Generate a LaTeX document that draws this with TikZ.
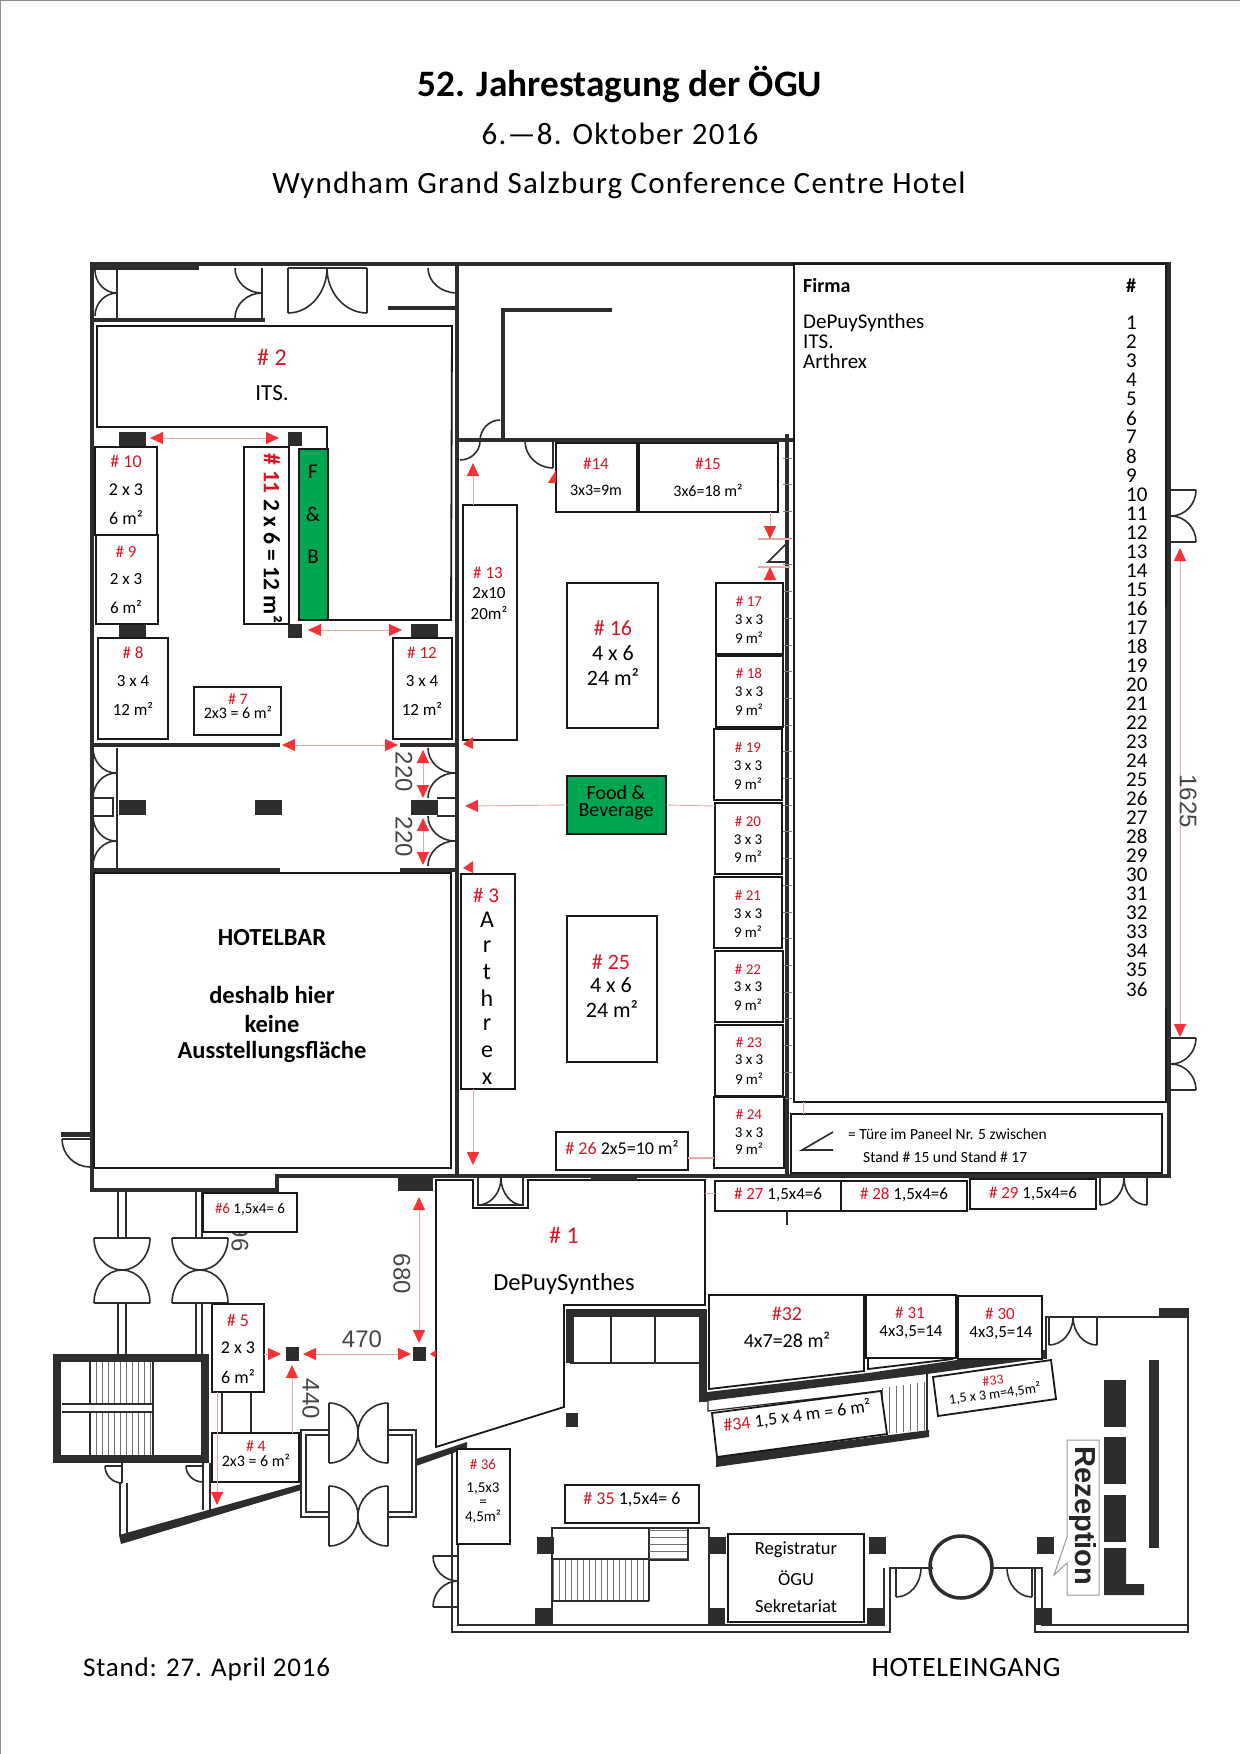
\documentclass[tikz,border=0pt]{standalone}
\usepackage{fontspec}
\usepackage{xcolor}
\usepackage{tikz}
\usetikzlibrary{
    arrows.meta,
    calc
}
\setmainfont{Carlito}
\newfontfamily\dimfont{Liberation Sans}
\definecolor{wallc}{RGB}{45,45,45}
\definecolor{standred}{RGB}{215,20,35}
\definecolor{tipred}{RGB}{245,50,55}
\definecolor{linered}{RGB}{235,170,170}
\definecolor{fbgreen}{RGB}{0,166,81}
\definecolor{dimgray}{RGB}{70,70,70}
\newcommand{\fsz}[1]{\fontsize{#1}{#1}\selectfont}
\tikzset{
    wall/.style={draw=wallc,line width=4.5pt},
    thinwall/.style={draw=wallc,line width=1.8pt},
    column/.style={fill=wallc,draw=none},
    door/.style={draw=wallc,line width=1.6pt},
    stand/.style={draw=black!90,line width=1.8pt,fill=white,inner sep=0pt,outer sep=0pt},
    lab/.style={inner sep=0pt,align=center,yshift=-1pt},
    redlab/.style={lab,text=standred},
    dimlab/.style={lab,text=dimgray,font=\dimfont\fsz{24}},
    hatch/.style={draw=black!55,line width=.7pt},
    dimtip/.tip={Triangle[length=13pt,width=12pt,color=tipred]},
    dimarrow/.style={draw=linered,line width=.9pt,dimtip-dimtip},
    dimend/.style={draw=linered,line width=.9pt,-dimtip},
    dimline/.style={draw=linered,line width=.9pt}
}
% one door leaf: start, corner, end
\newcommand{\leaf}[3]{\draw[door] (#1) .. controls ($(#1)!.55!(#2)$) and ($(#3)!.55!(#2)$) .. (#3);}
% stand box from its two corners
\newcommand{\standrect}[6][]{%
  \pgfmathsetmacro{\standw}{#5-#3}\pgfmathsetmacro{\standh}{#6-#4}%
  \node[stand,#1,minimum width=\standw pt,minimum height=\standh pt,anchor=north west] (#2) at (#3,#4) {};}

\begin{document}
\begin{tikzpicture}[x=1pt,y=-1pt]
\useasboundingbox (0,0) rectangle (1240,1754);
\draw[black!45,line width=2pt] (0,1754) -- (0,0) -- (1240,0);

% Heading
\node[lab,font=\bfseries\fsz{37.3}] (title) at (620,83) {52. Jahrestagung der ÖGU};
\node[lab,font=\addfontfeature{LetterSpace=4}\fsz{31}] (dates) at (620,133) {6.—8. Oktober 2016};
\node[lab,font=\addfontfeature{LetterSpace=4}\fsz{31}] (venue) at (619,184) {Wyndham Grand Salzburg Conference Centre Hotel};
\node[lab,anchor=west,font=\addfontfeature{LetterSpace=3}\fsz{27}] (asof) at (83,1668) {Stand: 27. April 2016};
\node[lab,font=\addfontfeature{LetterSpace=2}\fsz{28}] (entrance) at (966,1666) {HOTELEINGANG};

% Main walls
\draw[wall] (457,1176) -- (1169,1176) -- (1169,264) -- (92,264) -- (92,1190) -- (277,1190) -- (277,1176) -- (457,1176);
\fill[wallc] (92,262) rectangle (199,270);
\draw[wall] (457,264) -- (457,1176);
\draw[wall] (457,440) -- (793,440);
\draw[wall] (787,434) -- (787,1176);
\draw[wall] (612,310) -- (503,310) -- (503,440);
\draw[wall] (92,320) -- (265,320);
\draw[wall] (388,308) -- (457,308);
\draw[wall] (92,745) -- (280,745);
\draw[wall] (400,745) -- (457,745);
\draw[wall] (92,870) -- (280,870);
\draw[wall] (400,870) -- (457,870);
\draw[thinwall] (117,268) -- (117,318);
\draw[thinwall] (262,268) -- (262,320);
\draw[thinwall] (117,748) -- (117,868);
\foreach \i in {0,...,24} {
    \draw[black!50,line width=.8pt] (783,{458+26.7*\i}) -- (792,{458+26.7*\i});
}

% Doors in the north rooms
\leaf{95,270}{95,293}{117,293}
\leaf{95,316}{95,293}{117,293}
\leaf{235,268}{235,293}{262,293}
\leaf{235,318}{235,293}{262,293}
\draw[door] (288,268) -- (288,313);
\draw[door] (367,268) -- (367,313);
\draw[door] (288,268) -- (367,268);
\leaf{288,313}{327,313}{327,268}
\leaf{367,313}{327,313}{327,268}
\leaf{428,268}{428,293}{457,293}
\leaf{460,460}{480,460}{480,441}
\leaf{480,441}{480,420}{500,420}
\leaf{525,441}{525,468}{553,468}
\draw[door] (553,441) -- (553,468);

% Doors of the hall
\foreach \yc in {773,841} {
    \leaf{93,{\yc-25}}{93,\yc}{116,\yc}
    \leaf{93,{\yc+25}}{93,\yc}{116,\yc}
    \leaf{428,{\yc-25}}{428,\yc}{455,\yc}
    \leaf{428,{\yc+25}}{428,\yc}{455,\yc}
}
\draw[door] (93,798) rectangle (113,816);
\draw[door] (437,798) -- (455,798);
\draw[door] (437,816) -- (455,816);

% Columns
\foreach \x/\y in {119/432,119/624,119/800,255/800,411/800,411/624} {
    \fill[column] (\x,\y) rectangle ++(27,15);
}
\foreach \x/\y in {288/432,288/624} {
    \fill[column] (\x,\y) rectangle ++(14,14);
}
\fill[column] (398,1177) rectangle (433,1191);
\fill[column] (286,1347) rectangle (299,1361);
\fill[column] (413,1347) rectangle (426,1361);
\fill[column] (566,1413) rectangle (578,1427);
\foreach \x/\y in {537/1537,709/1537,869/1537,1037/1537,535/1608,708/1608,867/1608,1035/1608} {
    \fill[column] (\x,\y) rectangle ++(17,17);
}

% East doors and door in the panel
\foreach \yc in {516,1064} {
    \draw[door] (1171,{\yc-26}) -- (1196,{\yc-26});
    \draw[door] (1171,{\yc+26}) -- (1196,{\yc+26});
    \leaf{1196,{\yc-26}}{1196,\yc}{1171,\yc}
    \leaf{1196,{\yc+26}}{1196,\yc}{1171,\yc}
}
\draw[door] (787,543) -- (768,562) -- (787,562);
\draw[dimline,line width=1.4pt] (758,539) -- (790,539);
\draw[dimline,line width=1.4pt] (758,567) -- (790,567);
\draw[door] (1100,1178) -- (1100,1205);
\draw[door] (1147,1178) -- (1147,1205);
\leaf{1100,1205}{1124,1205}{1124,1178}
\leaf{1147,1205}{1124,1205}{1124,1178}

% West stair tower and corridor
\foreach \x in {118,126,196,202} {
    \draw[thinwall] (\x,1190) -- (\x,1238);
    \draw[thinwall] (\x,1303) -- (\x,1354);
}
\foreach \xc in {122,200} {
    \draw[door] ({\xc-28},1238) -- ({\xc+28},1238);
    \draw[door] ({\xc-28},1303) -- ({\xc+28},1303);
    \leaf{{\xc-28},1238}{{\xc-28},1270}{\xc,1270}
    \leaf{{\xc+28},1238}{{\xc+28},1270}{\xc,1270}
    \leaf{{\xc-28},1303}{{\xc-28},1270}{\xc,1270}
    \leaf{{\xc+28},1303}{{\xc+28},1270}{\xc,1270}
}
\draw[wallc,line width=8pt] (57,1358) rectangle (205,1459);
\foreach \x in {90,96,...,153} {
    \draw[hatch] (\x,1362) -- (\x,1403);
    \draw[hatch] (\x,1413) -- (\x,1455);
}
\draw[thinwall] (90,1362) -- (90,1403);
\draw[thinwall] (90,1413) -- (90,1455);
\draw[thinwall] (153,1362) -- (153,1455);
\draw[thinwall] (62,1404) -- (152,1404);
\draw[thinwall] (62,1412) -- (152,1412);
\leaf{105,1466}{105,1483}{122,1483}
\draw[door] (105,1466) -- (122,1466);
\leaf{186,1466}{186,1482}{203,1482}
\draw[door] (186,1466) -- (203,1466);
\draw[thinwall] (120,1483) -- (120,1535);
\draw[thinwall] (127,1483) -- (127,1535);
\draw[thinwall] (122,1463) -- (122,1483);
\draw[thinwall] (203,1463) -- (203,1510);
\draw[thinwall] (210,1463) -- (210,1510);
\fill[wallc] (119,1535) -- (301,1484) -- (301,1490) -- (121,1544) -- cycle;
\fill[wallc] (416,1459) -- (467,1442) -- (467,1448) -- (416,1466) -- cycle;
\draw[door] (301,1430) rectangle (416,1517);
\draw[door] (306,1435) rectangle (412,1512);
\foreach \yc in {1433,1516} {
    \fill[white] (329,{\yc-30}) rectangle (388,{\yc+30});
    \draw[door] (329,{\yc-30}) -- (329,{\yc+30});
    \draw[door] (388,{\yc-30}) -- (388,{\yc+30});
    \leaf{329,{\yc-30}}{358,{\yc-30}}{358,\yc}
    \leaf{329,{\yc+30}}{358,{\yc+30}}{358,\yc}
    \leaf{388,{\yc-30}}{358,{\yc-30}}{358,\yc}
    \leaf{388,{\yc+30}}{358,{\yc+30}}{358,\yc}
}
\draw[wall] (61,1134.5) -- (90,1134.5);
\draw[door] (62,1139) -- (90,1139);
\leaf{62,1139}{62,1167}{90,1167}
\node[dimlab,rotate=-90] (cutdim) at (240,1237) {96};
\draw[thinwall] (222,1392) rectangle (251,1433);

% Booth #1 and rooms to the south
\draw[stand] (436,1180) -- (473,1180) -- (473,1208) -- (528,1208) -- (528,1180) -- (705,1180) -- (705,1305) -- (564,1305) -- (564,1407) -- (436,1447) -- cycle;
\draw[door] (478,1178) -- (478,1205) -- (523,1205) -- (523,1178);
\leaf{478,1205}{501,1205}{501,1178}
\leaf{523,1205}{501,1205}{501,1178}
\draw[door] (591,1179) -- (637,1179);
\draw[wall,line width=8pt] (570,1363) -- (570,1313) -- (703,1313) -- (703,1402);
\draw[thinwall] (570,1363) -- (700,1363);
\draw[thinwall] (611,1317) -- (611,1363);
\draw[thinwall] (655,1317) -- (655,1363);
\fill[wallc] (699,1393) -- (868,1373) -- (957,1360) -- (1043,1358) -- (1023,1361) -- (927,1374) -- (699,1402) -- cycle;
\fill[wallc] (1043,1350) rectangle (1047,1359);

\draw[thinwall,line width=1.2pt] (708,1401) -- (708,1411) -- (881,1391);
\foreach \x in {882,889,...,927} {
    \draw[hatch] (\x,{1388-(\x-882)*.133}) -- (\x,{1434-(\x-882)*.09});
}
\draw[thinwall] (927,1373) -- (927,1432);
\fill[wallc] (716,1457) -- (929,1430) -- (929,1437) -- (716,1467) -- cycle;

% South room
\draw[thinwall] (452,1449) -- (452,1632) -- (890,1632) -- (890,1568) -- (933,1568);
\draw[thinwall] (458,1449) -- (458,1625) -- (884,1625) -- (884,1568);
\draw[thinwall] (992,1568) -- (1042,1568) -- (1042,1625) -- (1188,1625);
\draw[thinwall] (1035,1568) -- (1035,1632) -- (1188,1632) -- (1188,1317) -- (1046,1317) -- (1046,1350);
\fill[wallc] (1159,1308) rectangle (1189,1317);
\draw[door] (433,1556) -- (458,1556);
\draw[door] (433,1607) -- (458,1607);
\leaf{433,1556}{433,1581}{458,1581}
\leaf{433,1607}{433,1581}{458,1581}
\draw[door] (1049,1317) -- (1049,1345);
\draw[door] (1097,1317) -- (1097,1345);
\leaf{1049,1345}{1073,1345}{1073,1317}
\leaf{1097,1345}{1073,1345}{1073,1317}
\draw[thinwall] (552,1625) -- (552,1528) -- (709,1528) -- (709,1625);
\draw[thinwall] (552,1559) -- (649,1559);
\foreach \x in {553,559,...,649} {
    \draw[hatch] (\x,1560) -- (\x,1601);
}
\draw[thinwall] (553,1601) -- (649,1601);
\draw[thinwall] (649,1528) -- (649,1601);
\foreach \y in {1530,1537,...,1558} {
    \draw[hatch] (649,\y) -- (688,\y);
}
\draw[thinwall] (688,1528) -- (688,1560) -- (649,1560);
\draw[wallc,line width=3.5pt] (961,1567) circle (31);
\draw[door] (896,1568) -- (896,1597);
\leaf{896,1597}{921,1597}{921,1568}
\draw[door] (1032,1568) -- (1032,1597);
\leaf{1032,1597}{1007,1597}{1007,1568}
\fill[column] (1149,1360) rectangle (1159,1548);
\foreach \y in {1380,1437,1495} {
    \fill[column] (1104,\y) rectangle ++(22,47);
}
\fill[column] (1104,1548) -- (1126,1548) -- (1126,1584) -- (1144,1584) -- (1144,1595) -- (1104,1595) -- cycle;
\draw[black!40,line width=1pt,fill=white] (1067,1440) -- (1099,1440) -- (1099,1595) -- (1067,1595) -- (1067,1563) -- (1054,1575) -- (1067,1537) -- cycle;
\node[lab,rotate=-90,font=\dimfont\bfseries\fsz{29},text=black!85] (rezeption) at (1083,1515) {Rezeption};

% Stand boxes
\draw[stand] (97,326) -- (452,326) -- (451,620) -- (299,620) -- (299,449) -- (327,449) -- (327,427) -- (97,427) -- cycle;
\standrect[fill=fbgreen]{fb}{299}{449}{328}{620}
\standrect{s10}{95}{447}{157}{535}
\standrect{s9}{96}{535}{158}{624}
\standrect{s8}{98}{638}{168}{739}
\standrect{s7}{194}{687}{281}{735}
\standrect{s11}{244}{447}{289}{624}
\standrect{s12}{393}{638}{452}{739}
\standrect{bar}{94}{873}{451}{1168}
\standrect{s14}{556}{443}{637}{512}
\standrect{s15}{639}{443}{778}{512}
\standrect{s13}{463}{505}{517}{740}
\standrect{s16}{567}{583}{658}{728}
\standrect{s25}{567}{916}{657}{1062}
\standrect{s3}{461}{874}{515}{1089}
\standrect{s26}{556}{1132}{688}{1170}
\standrect{s17}{716}{583}{783}{654}
\standrect{s18}{716}{656}{783}{727}
\standrect{s19}{714}{729}{782}{800}
\standrect{s20}{715}{803}{782}{874}
\standrect{s21}{714}{877}{782}{948}
\standrect{s22}{715}{951}{783}{1022}
\standrect{s23}{715}{1025}{783}{1096}
\standrect{s24}{714}{1097}{784}{1168}
\standrect[fill=fbgreen]{food}{567}{776}{666}{834}
\standrect{table}{794}{264}{1166}{1102}
\fill[wallc] (1165,607) rectangle (1171,1008);
\standrect{legend}{791}{1114}{1162}{1173}
\standrect{s6}{203}{1193}{297}{1232}
\standrect{s5}{212}{1304}{264}{1392}
\standrect{s4}{212}{1433}{299}{1482}
\standrect{s27}{715}{1181}{841}{1211}
\standrect{s28}{841}{1181}{967}{1211}
\standrect{s29}{970}{1179}{1096}{1209}
\standrect{s31}{866}{1295}{956}{1358}
\standrect{s30}{958}{1296}{1042}{1359}
\standrect{s35}{565}{1485}{699}{1523}
\standrect{s36}{457}{1449}{510}{1544}
\standrect{reg}{728}{1534}{864}{1622}
\draw[stand] (709,1295) -- (864,1295) -- (864,1371) -- (709,1389) -- cycle;
\draw[stand] (868,1359) -- (868,1369) -- (953,1359);
\draw[stand] (933,1377) -- (1051,1360) -- (1056,1399) -- (938,1416) -- cycle;
\draw[stand] (712,1413) -- (881,1391) -- (887,1434) -- (717,1457) -- cycle;

% Dimension arrows
\draw[dimarrow] (150,438) -- (279,438);
\draw[dimarrow] (308,630) -- (402,630);
\draw[dimarrow] (282,745) -- (398,745);
\draw[dimarrow] (423,750) -- (423,798);
\draw[dimarrow] (423,818) -- (423,865);
\draw[dimarrow] (1180,548) -- (1180,1037);
\draw[dimarrow] (303,1354) -- (411,1354);
\draw[dimarrow] (419,1197) -- (419,1343);
\draw[dimend] (292,1433) -- (292,1365);
\draw[dimend] (217,1392) -- (217,1505);
\draw[dimend] (264,1354) -- (281,1354);
\draw[dimend] (473,505) -- (473,463);
\draw[dimend] (473,1089) -- (473,1165);
\draw[dimend] (770,512) -- (770,539);
\draw[dimend] (770,581) -- (770,567);
\draw[dimend] (food.west) -- (465,806);
\draw[dimline] (food.east) -- (715,806);
\draw[dimline,line width=1.4pt] (688,1158) -- (714,1158);
\draw[dimline] (803,1102) -- (803,1114);
\fill[tipred] (548,483) -- (556,470) -- (556,483) -- cycle;
\fill[tipred] (463,744) -- (473,737) -- (473,749) -- cycle;
\fill[tipred] (463,868) -- (473,861) -- (473,873) -- cycle;
\fill[tipred] (430,1354) -- (436,1350) -- (436,1358) -- cycle;
\draw[door] (787,1211) -- (787,1225);
\draw[dimline] (705,1193) -- (715,1193);

% Dimension values
\node[dimlab,rotate=-90] (d220a) at (404,771) {220};
\node[dimlab,rotate=-90] (d220b) at (404,836) {220};
\node[dimlab,rotate=-90] (d1625) at (1188,800) {1625};
\node[dimlab,rotate=-90] (d680) at (402,1273) {680};
\node[dimlab] (d470) at (362,1338) {470};
\node[dimlab,rotate=-90] (d440) at (311,1398) {440};

% Labels of the north rooms
\node[redlab,font=\fsz{24}] (n2) at (272,356) {\# 2};
\node[lab,font=\fsz{23}] (its) at (272,392) {ITS.};
\node[redlab,font=\fsz{18}] (n10) at (126,460) {\# 10};
\node[lab,font=\fsz{18}] (n10a) at (126,489) {2 x 3};
\node[lab,font=\fsz{18}] (n10b) at (126,517) {6 m²};
\node[redlab,font=\fsz{17}] (n9) at (126,551) {\# 9};
\node[lab,font=\fsz{17}] (n9a) at (126,578) {2 x 3};
\node[lab,font=\fsz{17}] (n9b) at (126,606) {6 m²};
\node[redlab,font=\fsz{17}] (n8) at (133,652) {\# 8};
\node[lab,font=\fsz{17}] (n8a) at (133,680) {3 x 4};
\node[lab,font=\fsz{17}] (n8b) at (133,708) {12 m²};
\node[lab,font=\fontsize{16}{14}\selectfont] (n7) at (238,705) {\textcolor{standred}{\# 7}\\2x3 = 6 m²};
\node[redlab,font=\fsz{17}] (n12) at (422,652) {\# 12};
\node[lab,font=\fsz{17}] (n12a) at (422,680) {3 x 4};
\node[lab,font=\fsz{17}] (n12b) at (422,708) {12 m²};
\node[lab,rotate=-90,font=\bfseries\fsz{23.5}] (n11) at (273,537) {\textcolor{standred}{\# 11} 2 x 6 =  12 m²};
\node[lab,font=\fsz{21}] (fbf) at (313,471) {F};
\node[lab,font=\fsz{21}] (fba) at (313,513) {\&};
\node[lab,font=\fsz{21}] (fbb) at (313,556) {B};
\node[lab,font=\bfseries\fsz{24.5}] (bar1) at (272,937) {HOTELBAR};
\node[lab,font=\bfseries\fsz{24.5}] (bar2) at (272,994) {deshalb hier};
\node[lab,font=\bfseries\fsz{24.5}] (bar3) at (272,1023) {keine};
\node[lab,font=\bfseries\fsz{24.5}] (bar4) at (272,1051) {Ausstellungsfläche};

% Labels of the main room
\node[redlab,font=\fsz{17}] (n14) at (596,463) {\#14};
\node[lab,font=\fsz{16}] (n14a) at (596,489) {3x3=9m};
\node[redlab,font=\fsz{17}] (n15) at (708,463) {\#15};
\node[lab,font=\fsz{16}] (n15a) at (708,489) {3x6=18 m²};
\node[redlab,font=\fsz{17}] (n13) at (488,572) {\# 13};
\node[lab,font=\fsz{17}] (n13a) at (489,592) {2x10};
\node[lab,font=\fsz{17}] (n13b) at (489,612) {20m²};
\node[redlab,font=\fsz{22}] (n16) at (613,627) {\# 16};
\node[lab,font=\fsz{22}] (n16a) at (613,652) {4 x 6};
\node[lab,font=\fsz{22}] (n16b) at (613,676) {24 m²};
\node[redlab,font=\fsz{22}] (n25) at (611,961) {\# 25};
\node[lab,font=\fsz{22}] (n25a) at (611,984) {4 x 6};
\node[lab,font=\fsz{22}] (n25b) at (612,1008) {24 m²};
\node[redlab,font=\fsz{21}] (n3) at (486,894) {\# 3};
\foreach \c/\y in {A/919,r/946,t/971,h/997,r/1024,e/1051,x/1078} {
    \node[lab,font=\fsz{24}] (arth\y) at (487,\y) {\c};
}
\foreach \nr/\xc/\yt/\ym/\yb in {17/749/600/619/637,18/749/672/691/709,19/748/746/765/783,20/748/820/839/856,21/748/894/913/931,22/748/968/986/1004,23/749/1041/1059/1078,24/749/1113/1132/1148} {
    \node[redlab,font=\fsz{15}] (n\nr) at (\xc,\yt) {\# \nr};
    \node[lab,font=\fsz{15}] (n\nr a) at (\xc,\ym) {3 x 3};
    \node[lab,font=\fsz{15}] (n\nr b) at (\xc,\yb) {9 m²};
}
\node[lab,font=\fontsize{20}{17}\selectfont] (foodlab) at (616,802) {Food \&\\Beverage};
\node[lab,font=\fsz{18}] (n26) at (622,1147) {\textcolor{standred}{\# 26} 2x5=10 m²};

% Company table
\node[lab,anchor=west,font=\bfseries\fsz{20}] (firma) at (803,285) {Firma};
\node[lab,anchor=west,font=\bfseries\fsz{20}] (nummer) at (1126,285) {\#};
\node[lab,anchor=west,font=\fsz{21}] (c1) at (803,322) {DePuySynthes};
\node[lab,anchor=west,font=\fsz{21}] (c2) at (803,341) {ITS.};
\node[lab,anchor=west,font=\fsz{21}] (c3) at (803,360) {Arthrex};
\foreach \n in {1,...,36} {
    \node[lab,anchor=west,font=\fsz{21}] (t\n) at (1126,{322+19.03*(\n-1)}) {\n};
}

% Legend
\draw[door] (833,1132) -- (802,1150) -- (833,1150);
\node[lab,anchor=west,font=\fsz{15.5}] (leg1) at (848,1133) {= Türe im Paneel Nr. 5 zwischen};
\node[lab,anchor=west,font=\fsz{15.5}] (leg2) at (863,1156) {Stand \# 15 und Stand \# 17};

% Labels of the foyer
\node[lab,font=\fsz{15}] (n6) at (250,1208) {\textcolor{standred}{\#6} 1,5x4= 6};
\node[redlab,font=\fsz{18}] (n5) at (238,1319) {\# 5};
\node[lab,font=\fsz{18}] (n5a) at (238,1347) {2 x 3};
\node[lab,font=\fsz{18}] (n5b) at (238,1376) {6 m²};
\node[lab,font=\fontsize{16}{15}\selectfont] (n4) at (256,1453) {\textcolor{standred}{\# 4}\\2x3 = 6 m²};
\node[redlab,font=\fsz{24}] (n1) at (564,1234) {\# 1};
\node[lab,font=\fsz{24.5}] (dps) at (564,1283) {DePuySynthes};
\node[lab,font=\fsz{17}] (n27) at (778,1194) {\textcolor{standred}{\# 27} 1,5x4=6};
\node[lab,font=\fsz{17}] (n28) at (904,1194) {\textcolor{standred}{\# 28} 1,5x4=6};
\node[lab,font=\fsz{17}] (n29) at (1033,1193) {\textcolor{standred}{\# 29} 1,5x4=6};
\node[redlab,font=\fsz{20}] (n32) at (787,1313) {\#32};
\node[lab,font=\fsz{20}] (n32a) at (787,1339) {4x7=28 m²};
\node[redlab,font=\fsz{17}] (n31) at (910,1312) {\# 31};
\node[lab,font=\fsz{17}] (n31a) at (911,1331) {4x3,5=14};
\node[redlab,font=\fsz{17}] (n30) at (1000,1313) {\# 30};
\node[lab,font=\fsz{17}] (n30a) at (1001,1332) {4x3,5=14};
\node[lab,rotate=7.5,font=\fontsize{14}{13}\selectfont] (n33) at (994,1387) {\textcolor{standred}{\#33}\\1,5 x 3 m=4,5m²};
\node[lab,rotate=7.5,font=\fsz{18}] (n34) at (797,1415) {\textcolor{standred}{\#34} 1,5 x 4 m = 6 m²};
\node[lab,font=\fsz{18}] (n35) at (632,1499) {\textcolor{standred}{\# 35}  1,5x4= 6};
\node[redlab,font=\fsz{15}] (n36) at (483,1463) {\# 36};
\node[lab,font=\fsz{15}] (n36a) at (483,1488) {1,5x3};
\node[lab,font=\fsz{15}] (n36b) at (483,1502) {=};
\node[lab,font=\fsz{15}] (n36c) at (483,1516) {4,5m²};
\node[lab,font=\fsz{18.5}] (reg1) at (796,1549) {Registratur};
\node[lab,font=\fsz{18.5}] (reg2) at (796,1577) {ÖGU};
\node[lab,font=\fsz{18.5}] (reg3) at (796,1605) {Sekretariat};
\end{tikzpicture}
\end{document}
